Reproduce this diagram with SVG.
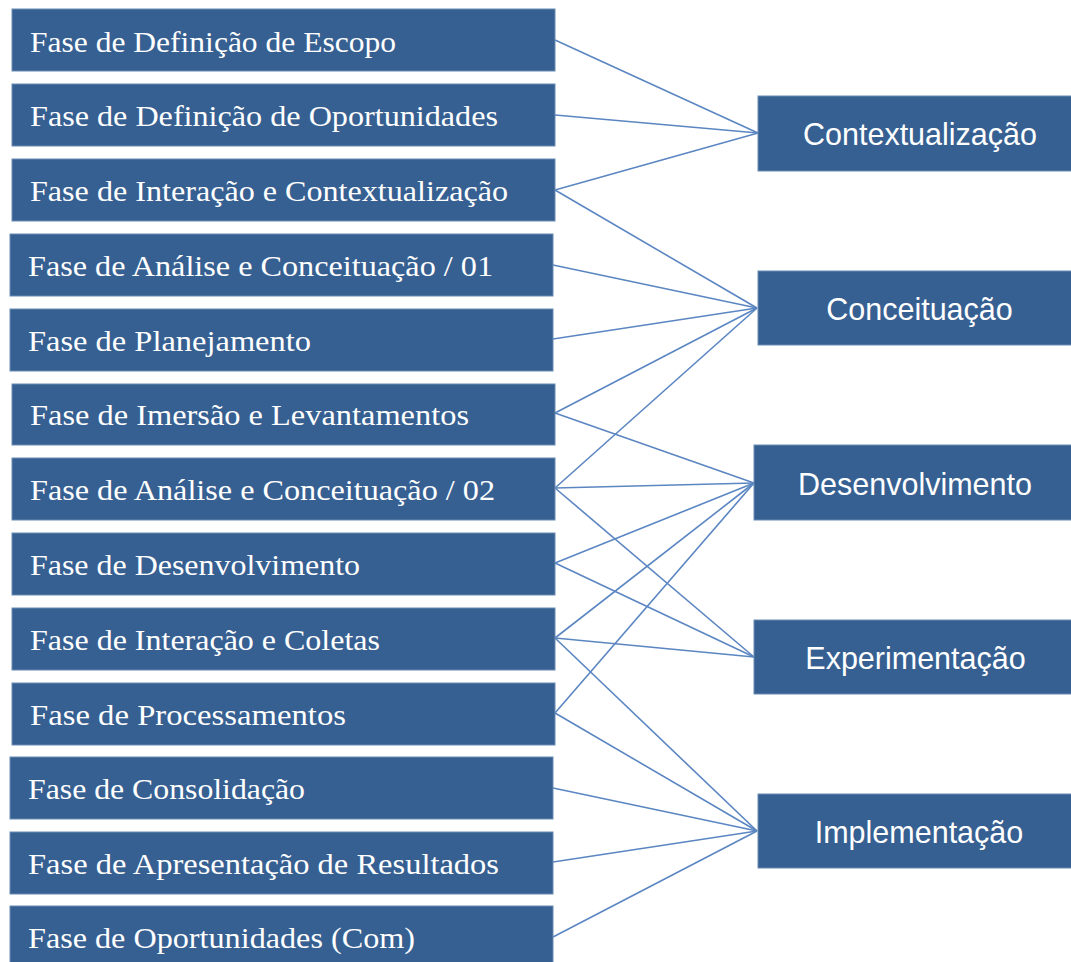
<svg xmlns="http://www.w3.org/2000/svg" width="1071" height="962" viewBox="0 0 1071 962">
<style>
.box{fill:#376092;stroke:#6b8bb3;stroke-width:1}
.lt{font-family:"Liberation Serif","Times New Roman",serif;font-size:29px;fill:#ffffff}
.rt{font-family:"Liberation Sans",Arial,sans-serif;font-size:30.5px;fill:#ffffff;text-anchor:middle}
.cn line{stroke:#5b86c2;stroke-width:1.6;fill:none}
</style>
<rect width="1071" height="962" fill="#ffffff"/>
<g id="connectors" class="cn">
<line x1="555" y1="40" x2="758" y2="133"/>
<line x1="555" y1="115" x2="758" y2="133"/>
<line x1="555" y1="190" x2="758" y2="133"/>
<line x1="555" y1="190" x2="757" y2="308"/>
<line x1="553" y1="265" x2="757" y2="308"/>
<line x1="553" y1="339" x2="757" y2="308"/>
<line x1="555" y1="413" x2="757" y2="308"/>
<line x1="555" y1="413" x2="754" y2="483"/>
<line x1="555" y1="488" x2="757" y2="308"/>
<line x1="555" y1="488" x2="754" y2="483"/>
<line x1="555" y1="488" x2="754" y2="657"/>
<line x1="555" y1="563" x2="754" y2="483"/>
<line x1="555" y1="563" x2="754" y2="657"/>
<line x1="555" y1="638" x2="754" y2="483"/>
<line x1="555" y1="638" x2="754" y2="657"/>
<line x1="555" y1="638" x2="757" y2="831"/>
<line x1="555" y1="713" x2="754" y2="483"/>
<line x1="555" y1="713" x2="757" y2="831"/>
<line x1="553" y1="788" x2="757" y2="831"/>
<line x1="553" y1="862" x2="757" y2="831"/>
<line x1="553" y1="937" x2="757" y2="831"/>
</g>
<g id="f1"><rect class="box" x="12" y="9" width="543" height="62"/><text class="lt" x="30" y="52" textLength="366" lengthAdjust="spacingAndGlyphs">Fase de Definição de Escopo</text></g>
<g id="f2"><rect class="box" x="12" y="84" width="543" height="62"/><text class="lt" x="30" y="126" textLength="468" lengthAdjust="spacingAndGlyphs">Fase de Definição de Oportunidades</text></g>
<g id="f3"><rect class="box" x="12" y="159" width="543" height="62"/><text class="lt" x="30" y="201" textLength="478" lengthAdjust="spacingAndGlyphs">Fase de Interação e Contextualização</text></g>
<g id="f4"><rect class="box" x="10" y="234" width="543" height="62"/><text class="lt" x="28" y="276" textLength="465" lengthAdjust="spacingAndGlyphs">Fase de Análise e Conceituação / 01</text></g>
<g id="f5"><rect class="box" x="10" y="309" width="543" height="62"/><text class="lt" x="28" y="351" textLength="283" lengthAdjust="spacingAndGlyphs">Fase de Planejamento</text></g>
<g id="f6"><rect class="box" x="12" y="384" width="543" height="61"/><text class="lt" x="30" y="425" textLength="439" lengthAdjust="spacingAndGlyphs">Fase de Imersão e Levantamentos</text></g>
<g id="f7"><rect class="box" x="12" y="458" width="543" height="62"/><text class="lt" x="30" y="500" textLength="465" lengthAdjust="spacingAndGlyphs">Fase de Análise e Conceituação / 02</text></g>
<g id="f8"><rect class="box" x="12" y="533" width="543" height="62"/><text class="lt" x="30" y="575" textLength="330" lengthAdjust="spacingAndGlyphs">Fase de Desenvolvimento</text></g>
<g id="f9"><rect class="box" x="12" y="608" width="543" height="62"/><text class="lt" x="30" y="650" textLength="350" lengthAdjust="spacingAndGlyphs">Fase de Interação e Coletas</text></g>
<g id="f10"><rect class="box" x="12" y="683" width="543" height="62"/><text class="lt" x="30" y="725" textLength="316" lengthAdjust="spacingAndGlyphs">Fase de Processamentos</text></g>
<g id="f11"><rect class="box" x="10" y="757" width="543" height="62"/><text class="lt" x="28" y="799" textLength="277" lengthAdjust="spacingAndGlyphs">Fase de Consolidação</text></g>
<g id="f12"><rect class="box" x="10" y="832" width="543" height="62"/><text class="lt" x="28" y="874" textLength="471" lengthAdjust="spacingAndGlyphs">Fase de Apresentação de Resultados</text></g>
<g id="f13"><rect class="box" x="10" y="906" width="543" height="62"/><text class="lt" x="28" y="948" textLength="387" lengthAdjust="spacingAndGlyphs">Fase de Oportunidades (Com)</text></g>
<g id="r1"><rect class="box" x="758" y="96" width="322" height="75"/><text class="rt" x="920" y="145">Contextualização</text></g>
<g id="r2"><rect class="box" x="758" y="271" width="322" height="74"/><text class="rt" x="919.5" y="320">Conceituação</text></g>
<g id="r3"><rect class="box" x="754" y="445" width="326" height="75"/><text class="rt" x="915" y="495">Desenvolvimento</text></g>
<g id="r4"><rect class="box" x="754" y="620" width="326" height="74"/><text class="rt" x="915.5" y="669">Experimentação</text></g>
<g id="r5"><rect class="box" x="758" y="794" width="322" height="74"/><text class="rt" x="919" y="843">Implementação</text></g>
</svg>
